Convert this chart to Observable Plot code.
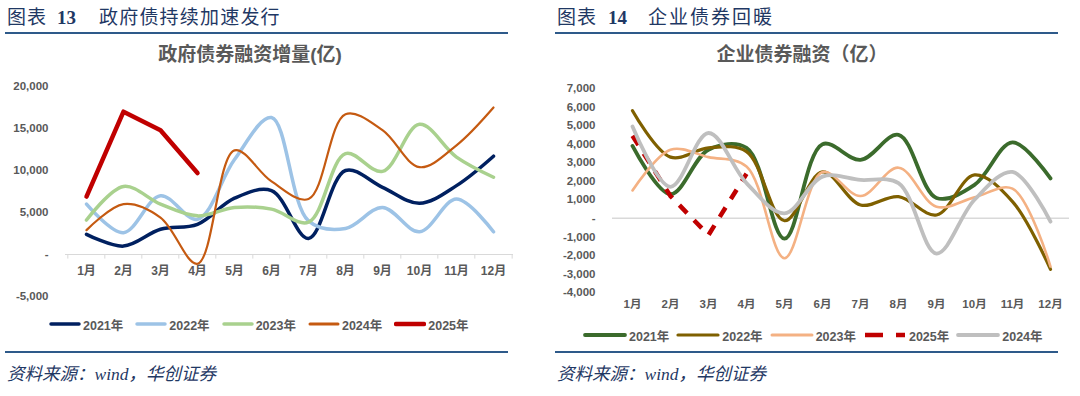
<!DOCTYPE html>
<html><head><meta charset="utf-8">
<script src="https://cdn.jsdelivr.net/npm/d3@7"></script>
<script src="https://cdn.jsdelivr.net/npm/@observablehq/plot@0.6"></script>
<style>
body{margin:0;background:#fff;width:1080px;height:396px;overflow:hidden;position:relative;font-family:"Liberation Sans","Noto Sans CJK SC",sans-serif;}
.abs{position:absolute;white-space:nowrap;}
.hdr{font-family:"Liberation Serif","Noto Sans CJK SC",serif;font-size:19px;line-height:19px;color:#1f3864;}
.hdr b{font-family:"Liberation Serif",serif;font-size:19px;}
.rule{height:2px;background:#2e5a8a;}
.title{font-size:19px;line-height:19px;font-weight:bold;color:#595959;text-align:center;}
.cap{font-family:"Liberation Serif","Noto Sans CJK SC",serif;font-style:italic;font-size:17.5px;line-height:17px;color:#1f3864;}
.legend{display:flex;align-items:center;font-size:12.5px;font-weight:bold;color:#595959;}
.legend .item{display:flex;align-items:center;}
.legend svg{margin-right:2px;}
</style></head>
<body>
<div id="root"></div>
<script>
const months = ["1月","2月","3月","4月","5月","6月","7月","8月","9月","10月","11月","12月"];

// 政府债券融资增量(亿)
const gov2021 = [2400, 1000, 3000, 3600, 6700, 7600, 1900, 10000, 8000, 6100, 8200, 11700];
const gov2022 = [6000, 2600, 7000, 4200, 11300, 16300, 4000, 3100, 5600, 2700, 6600, 2700];
const gov2023 = [4100, 8100, 6000, 4600, 5600, 5400, 3850, 12000, 9900, 15500, 11600, 9200];
const gov2024 = [2900, 6000, 4400, -1100, 12400, 8700, 6600, 16700, 14800, 10400, 13000, 17500];
const gov2025 = [6900, 17000, 14800, 9700];
const govTicks = [-5000, 0, 5000, 10000, 15000, 20000];

// 企业债券融资（亿）
const corp2021 = [3900, 1300, 3700, 3800, -1100, 4000, 3150, 4500, 1100, 1800, 4100, 2150];
const corp2022 = [5800, 3300, 3800, 3600, -130, 2500, 720, 1170, 180, 2340, 900, -2750];
const corp2023 = [1500, 3700, 3300, 2800, -2150, 2500, 1200, 2730, 630, 1130, 1600, -2600];
const corp2025 = [4450, 1200, -900, 2400];
const corp2024 = [4950, 1700, 4600, 1900, 270, 2250, 2070, 1900, -1900, 1000, 2500, -180];
const corpTicks = [-4000, -3000, -2000, -1000, 0, 1000, 2000, 3000, 4000, 5000, 6000, 7000];

const rows = arr => arr.map((v, i) => ({month: months[i], value: v}));
const fmt = d => d === 0 ? "-" : d3.format(",")(d).replace("\u2212", "-");

const govSeries = [
  {name: "2021年", data: gov2021, color: "#002060", w: 3.5, smooth: true},
  {name: "2022年", data: gov2022, color: "#9dc3e6", w: 3.5, smooth: true},
  {name: "2023年", data: gov2023, color: "#a9d18e", w: 3.5, smooth: true},
  {name: "2024年", data: gov2024, color: "#c55a11", w: 2.2, smooth: true},
  {name: "2025年", data: gov2025, color: "#c00000", w: 4.5, smooth: false}
];
const corpSeries = [
  {name: "2021年", data: corp2021, color: "#3b6b2c", w: 3.8, smooth: true},
  {name: "2022年", data: corp2022, color: "#7f6000", w: 3.2, smooth: true},
  {name: "2023年", data: corp2023, color: "#f4b183", w: 2.6, smooth: true},
  {name: "2025年", data: corp2025, color: "#c00000", w: 4.5, smooth: false, dash: "11,10"},
  {name: "2024年", data: corp2024, color: "#bfbfbf", w: 3.8, smooth: true}
];

const lineMarks = series => series.map(s => Plot.line(rows(s.data), {
  x: "month", y: "value", stroke: s.color, strokeWidth: s.w,
  curve: s.smooth ? "catmull-rom" : "linear",
  strokeLinejoin: "round", strokeLinecap: s.dash ? "butt" : "round",
  strokeDasharray: s.dash
}));

const axisStyle = {fontFamily: "'Liberation Sans','Noto Sans CJK SC',sans-serif", fontSize: "11.5px", fontWeight: "bold", color: "#595959", background: "transparent", overflow: "visible"};

const root = document.getElementById("root");
function add(html, cls, style) {
  const d = document.createElement("div");
  d.className = "abs " + (cls || "");
  Object.assign(d.style, style);
  d.innerHTML = html;
  root.appendChild(d);
  return d;
}

// ---------- Left panel ----------
add("图表", "hdr", {left: "7px", top: "8px", letterSpacing: "1px"});
add("<b>13</b>", "hdr", {left: "57px", top: "8px"});
add("政府债持续加速发行", "hdr", {left: "99px", top: "8px", letterSpacing: "1.2px"});
add("", "rule", {left: "5px", top: "32px", width: "503px"});
add("政府债券融资增量(亿)", "title", {left: "0px", width: "500px", top: "45px"});

const W1 = 540, ML1 = 65, MR1 = 27;
const step1 = (W1 - ML1 - MR1) / 12;
const left = Plot.plot({
  width: W1, height: 245,
  marginLeft: ML1, marginRight: MR1, marginTop: 16, marginBottom: 19,
  x: {type: "point", domain: months, padding: 0.5, axis: null},
  y: {domain: [-5000, 20000], ticks: govTicks, tickFormat: fmt, tickSize: 0, tickPadding: 17, label: null},
  style: axisStyle,
  marks: [
    Plot.ruleY([0], {stroke: "#d9d9d9", strokeWidth: 1}),
    Plot.ruleX(months, {x: d => d, y1: 0, y2: -550, dx: -step1 / 2, stroke: "#d9d9d9"}),
    Plot.ruleX([months[11]], {x: d => d, y1: 0, y2: -550, dx: step1 / 2, stroke: "#d9d9d9"}),
    Plot.text(months, {x: d => d, y: 0, dy: 17, fill: "#595959", fontWeight: "bold", fontSize: 12}),
    ...lineMarks(govSeries)
  ]
});
const lw = add("", "", {left: "0px", top: "70px"});
lw.appendChild(left);

function legend(series, x, y, swW, gap, dashLegend) {
  const d = add("", "legend", {left: x + "px", top: (y - 8) + "px", height: "16px"});
  series.forEach(s => {
    const it = document.createElement("div");
    it.className = "item";
    it.style.marginRight = gap + "px";
    const dash = s.dash ? `stroke-dasharray="${dashLegend}"` : "";
    const cap = s.dash ? "butt" : "round";
    it.innerHTML = `<svg width="${swW}" height="8"><line x1="2" x2="${swW - 2}" y1="4" y2="4" stroke="${s.color}" stroke-width="${Math.max(3, s.w)}" stroke-linecap="${cap}" ${dash}/></svg><span>${s.name}</span>`;
    d.appendChild(it);
  });
}
legend(govSeries, 49, 324, 32, 12, "");

add("", "rule", {left: "5px", top: "351px", width: "503px"});
add("资料来源：wind，华创证券", "cap", {left: "7px", top: "366px"});

// ---------- Right panel ----------
add("图表", "hdr", {left: "557px", top: "8px", letterSpacing: "1px"});
add("<b>14</b>", "hdr", {left: "608px", top: "8px"});
add("企业债券回暖", "hdr", {left: "648px", top: "8px", letterSpacing: "2px"});
add("", "rule", {left: "555px", top: "32px", width: "503px"});
add("企业债券融资（亿）", "title", {left: "702px", width: "200px", top: "45px"});

const right = Plot.plot({
  width: 530, height: 245,
  marginLeft: 62, marginRight: 11, marginTop: 18, marginBottom: 23,
  x: {type: "point", domain: months, padding: 0.5, tickSize: 0, tickPadding: 7, label: null},
  y: {domain: [-4000, 7000], ticks: corpTicks, tickFormat: fmt, tickSize: 0, tickPadding: 17, label: null},
  style: axisStyle,
  marks: [
    Plot.ruleY([0], {stroke: "#d9d9d9", strokeWidth: 1.5}),
    ...lineMarks(corpSeries)
  ]
});
const rw = add("", "", {left: "550px", top: "70px"});
rw.appendChild(right);

legend(corpSeries, 583, 335, 44, 7, "18,13");

add("", "rule", {left: "555px", top: "351px", width: "503px"});
add("资料来源：wind，华创证券", "cap", {left: "557px", top: "366px"});
</script>
</body></html>
